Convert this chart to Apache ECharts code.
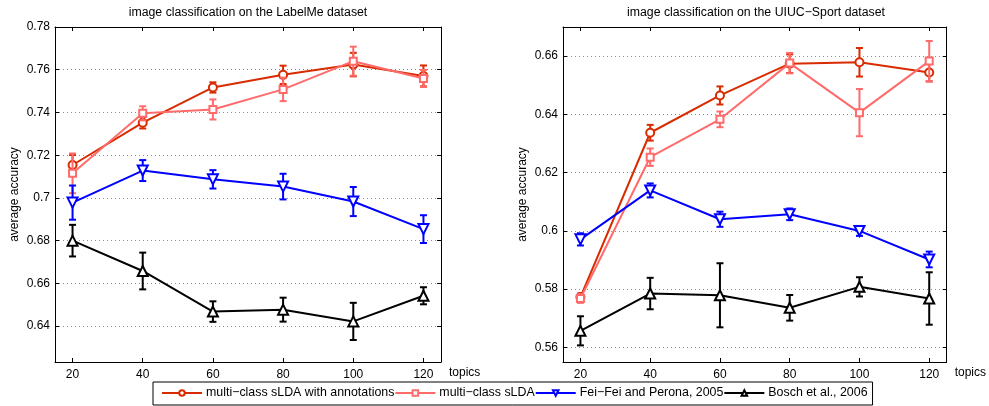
<!DOCTYPE html>
<html>
<head>
<meta charset="utf-8">
<script src="https://cdn.jsdelivr.net/npm/echarts@6/dist/echarts.min.js"></script>
<style>
html,body{margin:0;padding:0;background:#fff;}
#chart{width:989px;height:406px;}
</style>
</head>
<body>
<div id="chart"></div>
<script>
// ---- data ----
const topics = [20, 40, 60, 80, 100, 120];
const seriesNames = ['multi\u2212class sLDA with annotations', 'multi\u2212class sLDA', 'Fei\u2212Fei and Perona, 2005', 'Bosch et al., 2006'];
const titles = ['image classification on the LabelMe dataset', 'image classification on the UIUC\u2212Sport dataset'];

const labelmeSldaAnn    = [0.7154, 0.7352, 0.7517, 0.7576, 0.7624, 0.7571];
const labelmeSldaAnnErr = [0.0047, 0.0027, 0.0024, 0.0043, 0.0055, 0.0049];
const labelmeSlda       = [0.7115, 0.7396, 0.7414, 0.7508, 0.7640, 0.7559];
const labelmeSldaErr    = [0.0093, 0.0033, 0.0047, 0.0055, 0.0068, 0.0040];
const labelmeFeiFei     = [0.6978, 0.7128, 0.7087, 0.7053, 0.6983, 0.6854];
const labelmeFeiFeiErr  = [0.0080, 0.0049, 0.0043, 0.0060, 0.0068, 0.0065];
const labelmeBosch      = [0.6800, 0.6658, 0.6468, 0.6477, 0.6422, 0.6542];
const labelmeBoschErr   = [0.0074, 0.0086, 0.0048, 0.0056, 0.0087, 0.0040];

const uiucSldaAnn    = [0.5773, 0.6337, 0.6465, 0.6574, 0.6579, 0.6544];
const uiucSldaAnnErr = [0.0012, 0.0027, 0.0031, 0.0032, 0.0049, 0.0031];
const uiucSlda       = [0.5768, 0.6253, 0.6383, 0.6576, 0.6406, 0.6583];
const uiucSldaErr    = [0.0015, 0.0030, 0.0027, 0.0035, 0.0081, 0.0069];
const uiucFeiFei     = [0.5971, 0.6139, 0.6040, 0.6057, 0.6000, 0.5902];
const uiucFeiFeiErr  = [0.0021, 0.0024, 0.0026, 0.0020, 0.0017, 0.0027];
const uiucBosch      = [0.5657, 0.5785, 0.5779, 0.5736, 0.5808, 0.5768];
const uiucBoschErr   = [0.0050, 0.0054, 0.0110, 0.0044, 0.0033, 0.0090];

// ---- styling ----
const FONT = '"Liberation Sans", Arial, Helvetica, sans-serif';
const colors = ['#d92b00', '#ff6b6b', '#0000ff', '#000000'];
const symbols = ['emptyCircle', 'emptyRect', 'emptyTriangle', 'emptyTriangle'];
const symbolSizes = [8, 7, 10, 10];
const symbolRotates = [0, 0, 180, 0];

const panels = [
  {vals: [labelmeSldaAnn, labelmeSlda, labelmeFeiFei, labelmeBosch],
   errs: [labelmeSldaAnnErr, labelmeSldaErr, labelmeFeiFeiErr, labelmeBoschErr],
   ymin: 0.6232, ymax: 0.78, split: 8},
  {vals: [uiucSldaAnn, uiucSlda, uiucFeiFei, uiucBosch],
   errs: [uiucSldaAnnErr, uiucSldaErr, uiucFeiFeiErr, uiucBoschErr],
   ymin: 0.555, ymax: 0.67, split: 6}
];

const grids = [
  {left: 55, right: 548, top: 27, bottom: 44},
  {left: 563, right: 40, top: 27, bottom: 44}
];

function yFmt(v) {
  const k = v / 0.02;
  if (Math.abs(k - Math.round(k)) > 1e-6) return '';
  return String(+v.toFixed(2));
}
function xFmt(v) {
  return (Math.abs(v % 20) < 1e-6) ? String(v) : '';
}

const xAxes = [], yAxes = [], series = [], titleArr = [];
panels.forEach((p, gi) => {
  const g = grids[gi];
  xAxes.push({
    type: 'value', gridIndex: gi, min: 15, max: 125, splitNumber: 5, position: 'bottom',
    axisLine: {show: true, lineStyle: {color: '#000', width: 1}},
    axisTick: {show: true, inside: true, length: 4, lineStyle: {color: '#000'}},
    axisLabel: {color: '#000', fontSize: 12, fontFamily: FONT, margin: 7, formatter: xFmt, showMinLabel: false, showMaxLabel: false},
    splitLine: {show: false},
    name: 'topics', nameLocation: 'end', nameGap: 8,
    nameTextStyle: {color: '#000', fontSize: 12, fontFamily: FONT, verticalAlign: 'top', align: 'left', padding: [5, 0, 0, 0]}
  });
  xAxes.push({
    type: 'value', gridIndex: gi, min: 15, max: 125, splitNumber: 5, position: 'top',
    axisLine: {show: true, lineStyle: {color: '#000', width: 1}},
    axisTick: {show: true, inside: true, length: 4, lineStyle: {color: '#000'}},
    axisLabel: {show: false}, splitLine: {show: false}
  });
  yAxes.push({
    type: 'value', gridIndex: gi, min: p.ymin, max: p.ymax, splitNumber: p.split, position: 'left',
    axisLine: {show: true, lineStyle: {color: '#000', width: 1}},
    axisTick: {show: true, inside: true, length: 4, lineStyle: {color: '#000'}},
    axisLabel: {color: '#000', fontSize: 12, fontFamily: FONT, margin: 5, formatter: yFmt},
    splitLine: {show: true, lineStyle: {color: '#8c8c8c', width: 1, type: [1, 3]}},
    name: 'average accuracy', nameLocation: 'middle', nameGap: 34, nameRotate: 90,
    nameTextStyle: {color: '#000', fontSize: 12, fontFamily: FONT}
  });
  yAxes.push({
    type: 'value', gridIndex: gi, min: p.ymin, max: p.ymax, splitNumber: p.split, position: 'right',
    axisLine: {show: true, lineStyle: {color: '#000', width: 1}},
    axisTick: {show: true, inside: true, length: 4, lineStyle: {color: '#000'}},
    axisLabel: {show: false}, splitLine: {show: false}
  });
  titleArr.push({
    text: titles[gi], left: (g.left + (989 - g.right)) / 2, top: 7, padding: 0, textAlign: 'center',
    textStyle: {color: '#000', fontSize: 12.3, fontWeight: 'normal', fontFamily: FONT}
  });

  p.vals.forEach((vals, si) => {
    const errs = p.errs[si];
    const color = colors[si];
    series.push({
      type: 'custom', xAxisIndex: gi * 2, yAxisIndex: gi * 2, z: 2 + si * 2,
      silent: true,
      data: topics.map((t, i) => [t, vals[i] - errs[i], vals[i] + errs[i]]),
      encode: {x: 0, y: [1, 2]},
      renderItem: function (params, api) {
        const x = api.value(0);
        const lo = api.coord([x, api.value(1)]);
        const hi = api.coord([x, api.value(2)]);
        const hw = 3.5;
        const st = {stroke: color, lineWidth: 2};
        return {type: 'group', children: [
          {type: 'line', shape: {x1: lo[0], y1: lo[1], x2: hi[0], y2: hi[1]}, style: st},
          {type: 'line', shape: {x1: lo[0] - hw, y1: lo[1], x2: lo[0] + hw, y2: lo[1]}, style: st},
          {type: 'line', shape: {x1: hi[0] - hw, y1: hi[1], x2: hi[0] + hw, y2: hi[1]}, style: st}
        ]};
      }
    });
    series.push({
      type: 'line', name: seriesNames[si], xAxisIndex: gi * 2, yAxisIndex: gi * 2, z: 3 + si * 2,
      data: topics.map((t, i) => [t, vals[i]]),
      symbol: symbols[si], symbolSize: symbolSizes[si], symbolRotate: symbolRotates[si],
      showAllSymbol: true,
      lineStyle: {color: color, width: 2},
      itemStyle: {color: color, borderColor: color, borderWidth: 1.6},
      emphasis: {disabled: true}
    });
  });
});

const chart = echarts.init(document.getElementById('chart'), null, {renderer: 'canvas'});
chart.setOption({
  animation: false,
  backgroundColor: '#fff',
  title: titleArr,
  grid: grids,
  xAxis: xAxes,
  yAxis: yAxes,
  legend: {
    data: seriesNames, left: 153, top: 382, orient: 'horizontal',
    padding: [5, 5, 6, 8], itemGap: 0, itemWidth: 40, itemHeight: 7,
    borderColor: '#000', borderWidth: 1, backgroundColor: '#fff',
    textStyle: {color: '#000', fontSize: 12.4, fontFamily: FONT, padding: [0, 0, 0, -1]},
    selectedMode: false
  },
  series: series
});
</script>
</body>
</html>
